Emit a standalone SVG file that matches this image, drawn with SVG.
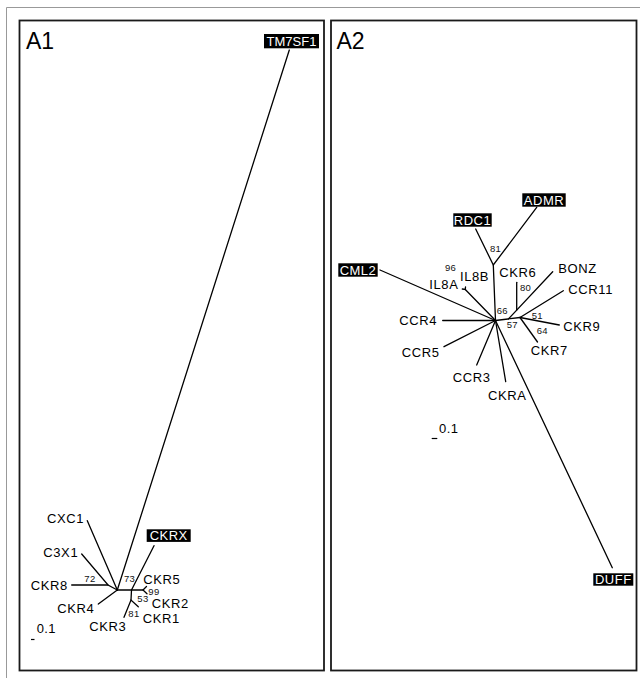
<svg xmlns="http://www.w3.org/2000/svg" width="640" height="678" viewBox="0 0 640 678">
<style>
.frame{fill:none;stroke:#999;stroke-width:1}
.panel{fill:#fff;stroke:#1a1a1a;stroke-width:1.8}
.br{fill:none;stroke:#000;stroke-width:1.3;stroke-linecap:round}
.lbl{font-family:"Liberation Sans",Arial,sans-serif;font-size:13px;letter-spacing:0.6px;fill:#000}
.box{fill:#000}
.wt{font-family:"Liberation Sans",Arial,sans-serif;font-size:13px;letter-spacing:0.5px;fill:#fff;text-anchor:middle}
.bs{font-family:"Liberation Sans",Arial,sans-serif;font-size:9.5px;letter-spacing:0.3px;fill:#111}
.title{font-family:"Liberation Sans",Arial,sans-serif;font-size:23px;fill:#000}
.sc{fill:none;stroke:#000;stroke-width:1.2}
</style>
<rect width="640" height="678" fill="#fff"/>
<path class="frame" d="M6.5,678 V7.5 H640"/>
<g id="panel-A1">
<rect class="panel" x="19.5" y="20.5" width="304.5" height="650"/>
<text class="title" x="26" y="49">A1</text>
</g>
<g id="panel-A2">
<rect class="panel" x="331" y="20.5" width="305.5" height="650"/>
<text class="title" x="336.5" y="49">A2</text>
</g>
<g id="connectors">
<!-- A1 -->
<path class="br" d="M87.3,520.7 L117.3,590"/>
<path class="br" d="M81.7,554 L108,585 L117.3,590"/>
<path class="br" d="M71.7,585 L108,585"/>
<path class="br" d="M98.3,604 L117.3,590"/>
<path class="br" d="M289.3,50 L117.3,590"/>
<path class="br" d="M117.3,590 L143,590"/>
<path class="br" d="M154,545.7 L131.5,590"/>
<path class="br" d="M146.5,586.5 L143,590 L147,593.8"/>
<path class="br" d="M131.5,590 L131,600"/>
<path class="br" d="M124,617.3 L131,600 L138.3,606.7"/>
<!-- A2 -->
<path class="br" d="M380,270 L495.5,320.5"/>
<path class="br" d="M442.7,320.5 L495.5,320.5"/>
<path class="br" d="M444,346.7 L495.5,320.5"/>
<path class="br" d="M476.7,365 L495.5,320.5"/>
<path class="br" d="M505.7,381.7 L495.5,320.5"/>
<path class="br" d="M495.5,320.5 L612.3,567.7"/>
<path class="br" d="M465.3,289.5 L495.5,320.5"/>
<path class="br" d="M462.3,289 L465.3,289.5 L465.5,287"/>
<path class="br" d="M493.3,265 L495.5,320.5"/>
<path class="br" d="M475.7,229 L493.3,265 L536.7,207.3"/>
<path class="br" d="M495.5,320.5 L520,317.5"/>
<path class="br" d="M508.5,318.9 L552.7,271.7"/>
<path class="br" d="M516.7,310.1 L516.7,282.3"/>
<path class="br" d="M520,317.5 L563.3,290.7"/>
<path class="br" d="M520,317.5 L559.3,325"/>
<path class="br" d="M520,317.5 L537.5,342"/>
<!-- scale bars -->
<path class="sc" d="M31,639.5 H34.5"/>
<path class="sc" d="M431.7,438.5 H437.3"/>
</g>
<g id="A1-nodes">
<g id="n-TM7SF1"><rect class="box" x="264" y="34" width="55" height="14.3"/><text class="wt" x="291.5" y="45.5" style="letter-spacing:0">TM7SF1</text></g>
<g id="n-CXC1"><text class="lbl" x="47" y="522.7">CXC1</text></g>
<g id="n-C3X1"><text class="lbl" x="43.3" y="556.7">C3X1</text></g>
<g id="n-CKR8"><text class="lbl" x="30.7" y="590">CKR8</text></g>
<g id="n-CKR4a"><text class="lbl" x="57.3" y="613.3">CKR4</text></g>
<g id="n-CKR3"><text class="lbl" x="89.3" y="630.7">CKR3</text></g>
<g id="n-CKR1"><text class="lbl" x="142.7" y="623.3">CKR1</text></g>
<g id="n-CKR2"><text class="lbl" x="151.7" y="608.3">CKR2</text></g>
<g id="n-CKR5"><text class="lbl" x="143.3" y="583.5">CKR5</text></g>
<g id="n-CKRX"><rect class="box" x="146.7" y="529.3" width="44" height="12.6"/><text class="wt" x="168.7" y="540">CKRX</text></g>
<g id="bs-A1">
<text class="bs" x="84.3" y="581.7">72</text>
<text class="bs" x="124" y="581.7">73</text>
<text class="bs" x="148.3" y="594.5">99</text>
<text class="bs" x="137.3" y="602">53</text>
<text class="bs" x="128.3" y="617.3">81</text>
</g>
<text class="lbl" x="36.7" y="633.3" style="letter-spacing:0.4px">0.1</text>
</g>
<g id="A2-nodes">
<g id="n-CML2"><rect class="box" x="338.3" y="263.3" width="39.4" height="13.4"/><text class="wt" x="358" y="274.7">CML2</text></g>
<g id="n-RDC1"><rect class="box" x="453.3" y="213.3" width="38.4" height="13.4"/><text class="wt" x="472.5" y="224.7">RDC1</text></g>
<g id="n-ADMR"><rect class="box" x="522.3" y="193.3" width="43.4" height="13.4"/><text class="wt" x="544" y="204.7">ADMR</text></g>
<g id="n-DUFF"><rect class="box" x="593.3" y="573.3" width="40" height="12.4"/><text class="wt" x="613.3" y="584">DUFF</text></g>
<g id="n-CCR4"><text class="lbl" x="399.3" y="325">CCR4</text></g>
<g id="n-CCR5"><text class="lbl" x="401.7" y="356.7">CCR5</text></g>
<g id="n-CCR3"><text class="lbl" x="452.7" y="381.7">CCR3</text></g>
<g id="n-CKRA"><text class="lbl" x="488" y="400">CKRA</text></g>
<g id="n-IL8A"><text class="lbl" x="429.3" y="289">IL8A</text></g>
<g id="n-IL8B"><text class="lbl" x="460" y="281">IL8B</text></g>
<g id="n-CKR6"><text class="lbl" x="499.3" y="277.3">CKR6</text></g>
<g id="n-BONZ"><text class="lbl" x="558.3" y="272.7">BONZ</text></g>
<g id="n-CCR11"><text class="lbl" x="568.3" y="294.3">CCR11</text></g>
<g id="n-CKR9"><text class="lbl" x="563.3" y="331">CKR9</text></g>
<g id="n-CKR7"><text class="lbl" x="530.7" y="355">CKR7</text></g>
<g id="bs-A2">
<text class="bs" x="445" y="270.7">96</text>
<text class="bs" x="490" y="251.7">81</text>
<text class="bs" x="496.7" y="314">66</text>
<text class="bs" x="506.7" y="328.3">57</text>
<text class="bs" x="520" y="290.7">80</text>
<text class="bs" x="531.7" y="319.3">51</text>
<text class="bs" x="536.7" y="334.3">64</text>
</g>
<text class="lbl" x="439" y="433.3" style="letter-spacing:0.4px">0.1</text>
</g>
</svg>
